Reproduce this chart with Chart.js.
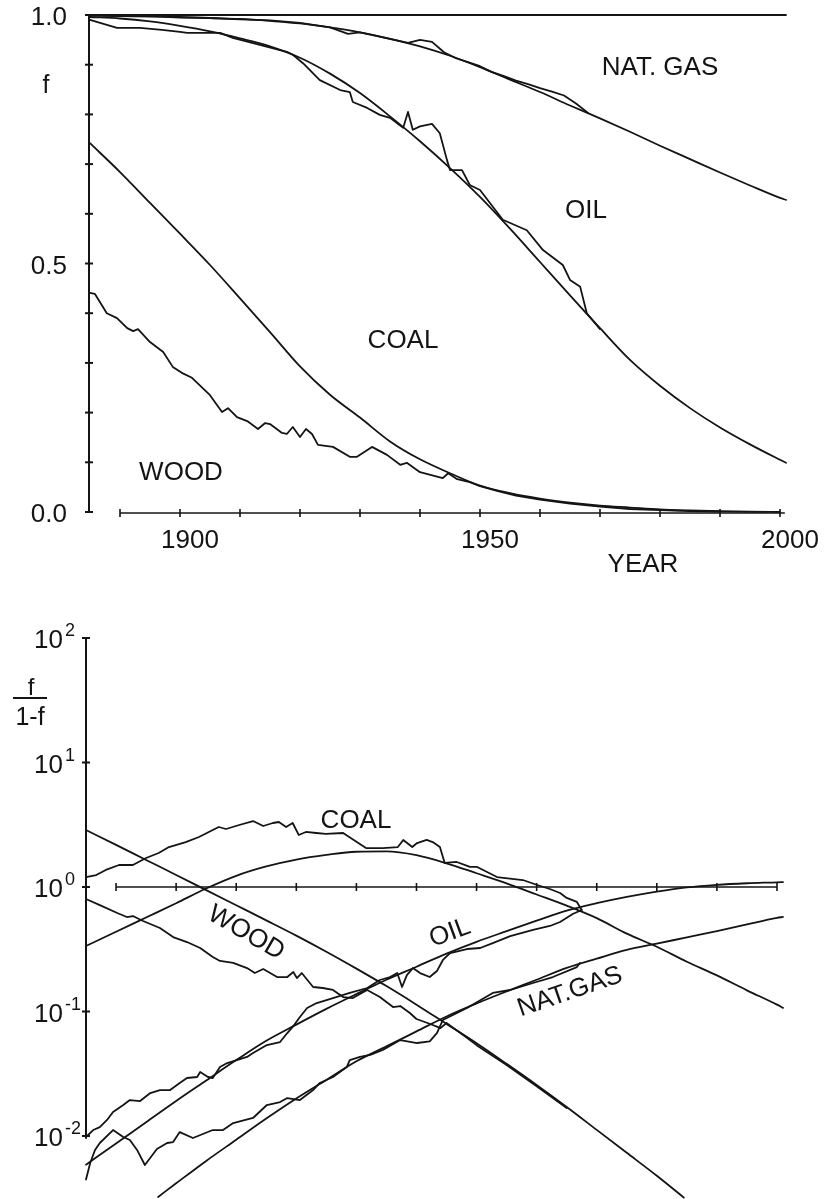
<!DOCTYPE html>
<html><head><meta charset="utf-8">
<script src="https://cdn.jsdelivr.net/npm/chart.js@4/dist/chart.umd.min.js"></script>
<style>
html,body{margin:0;padding:0;background:#fff;}
#wrap{position:relative;width:832px;height:1199px;overflow:hidden;}
canvas{position:absolute;left:0;}
#c1{top:0;}
#c2{top:600px;}
</style></head><body>
<div id="wrap">
<canvas id="c1" width="832" height="600" style="width:832px;height:600px"></canvas>
<canvas id="c2" width="832" height="599" style="width:832px;height:599px"></canvas>
</div>
<script>
// ---------- TOP PANEL: cumulative share f ----------
const yearTicks = [1890,1900,1910,1920,1930,1940,1950,1960,1970,1980,1990,2000];
const yearLabels = [1900,1950,2000];
const fTicks = [0,0.1,0.2,0.3,0.4,0.5,0.6,0.7,0.8,0.9,1.0];
const fLabelValues = [0,0.5,1.0];
const fLabelTexts = ['0.0','0.5','1.0'];

const topUnityYears = [1885,2001];
const topUnity = [1,1];

const fitYears5 = [1885,1890,1895,1900,1905,1910,1915,1920,1925,1930,1935,1940,1945,1950,1955,1960,1965,1970,1975,1980,1985,1990,1995,2000,2001];

const topGasFit = [0.999,0.998,0.997,0.996,0.994,0.992,0.988,0.983,0.975,0.965,0.952,0.937,0.918,0.895,0.870,0.845,0.818,0.792,0.765,0.737,0.710,0.683,0.657,0.632,0.628];
const topGasDataYears = [1885,1890,1895,1900,1905,1910,1915,1920,1925,1928,1930,1935,1938,1940,1942,1944,1946,1948,1950,1952,1954,1956,1958,1960,1962,1964,1966,1968];
const topGasData = [1.0,0.998,0.998,0.995,0.994,0.991,0.989,0.984,0.975,0.962,0.965,0.952,0.944,0.950,0.946,0.925,0.913,0.905,0.897,0.885,0.877,0.868,0.861,0.853,0.846,0.838,0.822,0.803];

const topOilFit = [0.996,0.993,0.987,0.978,0.967,0.953,0.937,0.914,0.882,0.843,0.796,0.746,0.692,0.634,0.570,0.503,0.436,0.370,0.306,0.254,0.209,0.170,0.136,0.105,0.099];
const topOilDataYears = [1885,1889.5,1893.3,1897,1900,1901.2,1906.7,1908.8,1913.3,1917.8,1918.8,1920.5,1923.3,1926.7,1928.3,1928.8,1931.2,1933.3,1935,1937.2,1938,1938.8,1940,1942,1943.3,1944.5,1945,1947,1948.3,1950,1953.8,1957.8,1960.5,1963.8,1965,1966.7,1967.8,1970];
const topOilData = [0.990,0.974,0.974,0.970,0.966,0.964,0.964,0.954,0.940,0.926,0.920,0.903,0.869,0.849,0.845,0.825,0.813,0.799,0.793,0.773,0.805,0.769,0.776,0.781,0.762,0.708,0.688,0.688,0.658,0.648,0.588,0.567,0.527,0.497,0.467,0.453,0.400,0.368];

const woodFitYears = [1885,1890,1895,1900,1905,1910,1915,1920,1925,1930,1935,1940,1945,1950,1955,1960,1965,1970,1975,1980,1985,1990,1995,2000];
const topWoodFit = [0.742,0.684,0.622,0.560,0.497,0.430,0.362,0.293,0.236,0.190,0.142,0.106,0.078,0.053,0.038,0.027,0.019,0.013,0.009,0.005,0.003,0.0015,0.0005,0.0];
const topWoodDataYears = [1885,1885.8,1887.8,1889.5,1891.2,1892.2,1893,1895,1897.2,1898.8,1900.3,1902,1905,1907,1908,1909.5,1911.2,1913,1914.2,1915,1917,1917.8,1918.8,1920,1921,1922,1923,1925.5,1928.3,1929.5,1932,1934.5,1936.7,1937.8,1940,1943.8,1944.7,1946.2,1948.3,1950,1953,1956,1960,1965,1970,1975,1980,1985,1990];
const topWoodData = [0.441,0.439,0.400,0.390,0.370,0.364,0.368,0.342,0.322,0.292,0.280,0.270,0.235,0.201,0.209,0.191,0.183,0.167,0.179,0.177,0.159,0.157,0.171,0.151,0.167,0.157,0.135,0.131,0.111,0.111,0.131,0.115,0.095,0.099,0.080,0.068,0.078,0.066,0.060,0.052,0.042,0.033,0.025,0.017,0.011,0.006,0.004,0.002,0.001];

// ---------- BOTTOM PANEL: f/(1-f), log scale ----------
const decadeExps = [-2,-1,0,1,2];

const botWoodFitYears = [1885,1890,1895,1900,1905,1910,1915,1920,1925,1930,1935,1940,1945,1950,1955,1960,1965,1970,1975,1980,1984.5];
const botWoodFit = [2.87,2.18,1.65,1.25,0.944,0.714,0.540,0.407,0.302,0.221,0.160,0.1135,0.0794,0.0556,0.038,0.0257,0.0171,0.0112,0.00733,0.00479,0.0032];

const botCoalFit = [0.336,0.437,0.569,0.741,0.973,1.23,1.462,1.66,1.81,1.92,1.93,1.80,1.55,1.29,1.07,0.871,0.708,0.562,0.422,0.331,0.251,0.195,0.148,0.1135,0.107];
const botOilFit = [0.00589,0.00871,0.0129,0.0191,0.0279,0.0407,0.0582,0.0785,0.105,0.138,0.18,0.229,0.292,0.363,0.442,0.537,0.646,0.741,0.832,0.918,0.993,1.042,1.072,1.091,1.096];

const botGasFitYears = [1897,1900,1905,1910,1915,1920,1925,1930,1935,1940,1945,1950,1955,1960,1965,1970,1975,1980,1985,1990,1995,2000,2001];
const botGasFit = [0.00324,0.00417,0.00631,0.00933,0.0138,0.02,0.0282,0.0398,0.0525,0.0692,0.0912,0.116,0.145,0.18,0.224,0.266,0.313,0.351,0.394,0.442,0.501,0.565,0.575];

const botCoalDataYears = [1885,1886.7,1888.3,1890.5,1892.8,1895,1897.1,1898.8,1901.6,1903.8,1906.1,1907.1,1908.3,1910.5,1912.8,1914.5,1916.1,1917.1,1918.3,1919.4,1920.4,1921.6,1923.3,1924.9,1927.8,1928.8,1931.6,1934.4,1936.9,1937.8,1939.3,1940.1,1941.7,1942.7,1943.9,1944.7,1946.7,1948.9,1950.1,1953.4,1957.7,1960.1,1962.2,1963.9,1965,1966.7,1967.5];
const botCoalData = [1.202,1.247,1.371,1.503,1.503,1.710,1.875,2.094,2.296,2.523,2.871,3.034,2.924,3.148,3.388,3.090,3.266,3.327,3.034,3.266,2.618,2.767,2.716,2.667,2.716,2.523,2.056,2.056,2.094,2.388,2.094,2.254,2.388,2.296,2.094,1.560,1.589,1.449,1.449,1.202,1.138,1.038,0.964,0.895,0.817,0.759,0.653];

const botOilDataYears = [1885,1886.2,1887.3,1888.5,1889.5,1891.2,1892.3,1894,1895.7,1897.3,1899,1900.6,1901.8,1903.5,1904,1905.3,1906.1,1907.3,1908.5,1910.1,1911.8,1912.8,1915.1,1917.3,1918.5,1919.4,1920.6,1921.8,1923.4,1926.1,1928.9,1931.8,1933.9,1935.6,1936.8,1937.6,1938.4,1939.4,1940.6,1942.2,1943.4,1944.4,1945.6,1948.4,1950.6,1952.7,1955.6,1959.4,1962.2,1963.9,1966,1967.5];
const botOilData = [0.00982,0.01117,0.0118,0.01346,0.0156,0.01774,0.01945,0.0191,0.02213,0.02339,0.02339,0.02667,0.02924,0.02979,0.03266,0.02979,0.02924,0.03581,0.03855,0.04074,0.04315,0.04645,0.05383,0.05689,0.06714,0.07516,0.09036,0.1067,0.1169,0.1282,0.1409,0.1545,0.1791,0.1892,0.2037,0.1574,0.1963,0.2234,0.2037,0.1892,0.2113,0.2594,0.2951,0.3177,0.3236,0.3548,0.4036,0.4519,0.4864,0.5236,0.6067,0.6531];

const botGasDataYears = [1885,1885.7,1886.5,1887.3,1889.5,1891.2,1892.3,1893.5,1894.8,1896.8,1898.5,1899.5,1900.6,1902.8,1906.1,1907.8,1909.5,1912.8,1915.1,1917.3,1918.5,1920.6,1922.8,1923.9,1926.1,1928.4,1928.9,1930.6,1932.3,1934.4,1937.3,1940.1,1942.2,1943.4,1944.4,1948.4,1952.7,1955.6,1959.4,1962.7,1966.7,1967.2];
const botGasData = [0.00447,0.00607,0.00773,0.00879,0.01117,0.00982,0.00929,0.00773,0.00585,0.00787,0.00879,0.00895,0.01076,0.00964,0.01117,0.01117,0.01271,0.01396,0.01774,0.01875,0.02018,0.01945,0.02339,0.02667,0.02979,0.03581,0.04074,0.04315,0.04477,0.04909,0.05902,0.05585,0.0575,0.06714,0.08551,0.1067,0.1409,0.1489,0.1694,0.1892,0.2275,0.2455];

const botWoodDataYears = [1885,1887.3,1890.2,1891.8,1892.8,1894.5,1897.3,1899.5,1901.8,1904,1906.1,1907.3,1909.5,1911.8,1913.1,1914.5,1916.8,1918.5,1919.5,1920.1,1920.9,1922.8,1924.4,1926.1,1927.8,1929.4,1931.8,1933.9,1936.1,1937.3,1938.9,1940,1942.3,1944,1945,1948,1950,1955,1960,1965];
const botWoodData = [0.8017,0.7161,0.6180,0.5741,0.5848,0.5333,0.4688,0.3963,0.3614,0.3236,0.2742,0.2547,0.2455,0.2234,0.2037,0.2193,0.1892,0.1892,0.2075,0.1858,0.2037,0.1574,0.1545,0.1489,0.1306,0.1282,0.1489,0.1306,0.1086,0.1107,0.0973,0.0871,0.0794,0.0736,0.0809,0.0635,0.0537,0.0372,0.0251,0.0168];

// ---------- drawing ----------
const INK = '#141414';
const FONT = '"Liberation Sans", Arial, sans-serif';

function pts(xs, ys) { return xs.map((x, i) => ({ x: x, y: ys[i] })); }
function ds(xs, ys, smooth) {
  return { data: pts(xs, ys), borderColor: INK, borderWidth: 1.8, pointRadius: 0,
    tension: smooth ? 0.4 : 0, cubicInterpolationMode: smooth ? 'monotone' : 'default',
    clip: false, fill: false, borderJoinStyle: 'round', borderCapStyle: 'round' };
}
function seg(ctx, x1, y1, x2, y2) { ctx.beginPath(); ctx.moveTo(x1, y1); ctx.lineTo(x2, y2); ctx.stroke(); }
function label(ctx, s, x, y, size, align, base, rot) {
  ctx.save();
  ctx.font = size + 'px ' + FONT;
  ctx.fillStyle = INK;
  ctx.textAlign = align || 'center';
  ctx.textBaseline = base || 'alphabetic';
  ctx.translate(x, y);
  if (rot) ctx.rotate(rot * Math.PI / 180);
  ctx.fillText(s, 0, 0);
  ctx.restore();
}

const topAxes = {
  id: 'topAxes',
  afterDraw(chart) {
    const ctx = chart.ctx, xs = chart.scales.x, ys = chart.scales.y;
    ctx.save();
    ctx.strokeStyle = INK; ctx.lineWidth = 2;
    const ax = xs.getPixelForValue(1885) - 1;
    seg(ctx, ax, ys.getPixelForValue(1), ax, ys.getPixelForValue(0) + 1);
    fTicks.forEach(v => { const y = ys.getPixelForValue(v); seg(ctx, ax - 4, y, ax + 4, y); });
    const ay = ys.getPixelForValue(0) + 1;
    ctx.lineWidth = 1.6;
    seg(ctx, xs.getPixelForValue(1890), ay, xs.getPixelForValue(2000.8), ay);
    yearTicks.forEach(yr => { const x = xs.getPixelForValue(yr); seg(ctx, x, ay - 4, x, ay + 4); });
    ctx.restore();
    fLabelValues.forEach((v, i) => label(ctx, fLabelTexts[i], 67, ys.getPixelForValue(v) + 10, 26, 'right'));
    yearLabels.forEach(yr => label(ctx, String(yr), xs.getPixelForValue(yr) + 10, 548, 26, 'center'));
    label(ctx, 'YEAR', 643, 572, 26);
    label(ctx, 'f', 46, 93, 25);
    label(ctx, 'NAT. GAS', 660, 75, 26);
    label(ctx, 'OIL', 586, 218, 26);
    label(ctx, 'COAL', 403, 348, 26);
    label(ctx, 'WOOD', 181, 480, 26);
  }
};

const botAxes = {
  id: 'botAxes',
  afterDraw(chart) {
    const ctx = chart.ctx, xs = chart.scales.x, ys = chart.scales.y;
    ctx.save();
    ctx.strokeStyle = INK; ctx.lineWidth = 2;
    const ax = xs.getPixelForValue(1885);
    seg(ctx, ax, ys.getPixelForValue(100), ax, ys.getPixelForValue(0.0095));
    decadeExps.forEach(e => { const y = ys.getPixelForValue(Math.pow(10, e)); seg(ctx, ax - 4, y, ax + 4, y); });
    const ay = ys.getPixelForValue(1);
    ctx.lineWidth = 1.6;
    seg(ctx, xs.getPixelForValue(1890), ay, xs.getPixelForValue(2000), ay);
    yearTicks.forEach(yr => { const x = xs.getPixelForValue(yr); seg(ctx, x, ay - 4, x, ay + 4); });
    // fraction label
    ctx.lineWidth = 2;
    seg(ctx, 13, 98, 47, 98);
    ctx.restore();
    decadeExps.forEach(e => {
      const y = ys.getPixelForValue(Math.pow(10, e));
      label(ctx, '10', 63, y + 10, 26, 'right');
      label(ctx, String(e), 65, y - 2, 18, 'left');
    });
    label(ctx, 'f', 31, 95, 24);
    label(ctx, '1-f', 30, 125, 25);
    label(ctx, 'COAL', 356, 228, 26);
    label(ctx, 'WOOD', 246, 333, 26, 'center', 'middle', 30);
    label(ctx, 'OIL', 450, 333, 26, 'center', 'middle', -20);
    label(ctx, 'NAT.GAS', 570, 392, 26, 'center', 'middle', -19);
  }
};

const common = {
  responsive: false, animation: false, events: [],
  plugins: { legend: { display: false }, tooltip: { enabled: false } }
};

new Chart(document.getElementById('c1'), {
  type: 'line',
  data: { datasets: [
    ds(topUnityYears, topUnity, false),
    ds(fitYears5, topGasFit, true),
    ds(topGasDataYears, topGasData, false),
    ds(fitYears5, topOilFit, true),
    ds(topOilDataYears, topOilData, false),
    ds(woodFitYears, topWoodFit, true),
    ds(topWoodDataYears, topWoodData, false)
  ]},
  options: Object.assign({}, common, {
    layout: { padding: { left: 90, right: 46, top: 15, bottom: 88 } },
    scales: {
      x: { type: 'linear', min: 1885, max: 2001, display: false },
      y: { type: 'linear', min: 0, max: 1, display: false }
    }
  }),
  plugins: [topAxes]
});

new Chart(document.getElementById('c2'), {
  type: 'line',
  data: { datasets: [
    ds(botWoodFitYears, botWoodFit, true),
    ds(fitYears5, botCoalFit, true),
    ds(fitYears5, botOilFit, true),
    ds(botGasFitYears, botGasFit, true),
    ds(botCoalDataYears, botCoalData, false),
    ds(botOilDataYears, botOilData, false),
    ds(botGasDataYears, botGasData, false),
    ds(botWoodDataYears, botWoodData, false)
  ]},
  options: Object.assign({}, common, {
    layout: { padding: { left: 86, right: 49, top: 38, bottom: 0 } },
    scales: {
      x: { type: 'linear', min: 1885, max: 2001, display: false },
      y: { type: 'logarithmic', min: 0.00312, max: 100, display: false }
    }
  }),
  plugins: [botAxes]
});
</script>
</body></html>
